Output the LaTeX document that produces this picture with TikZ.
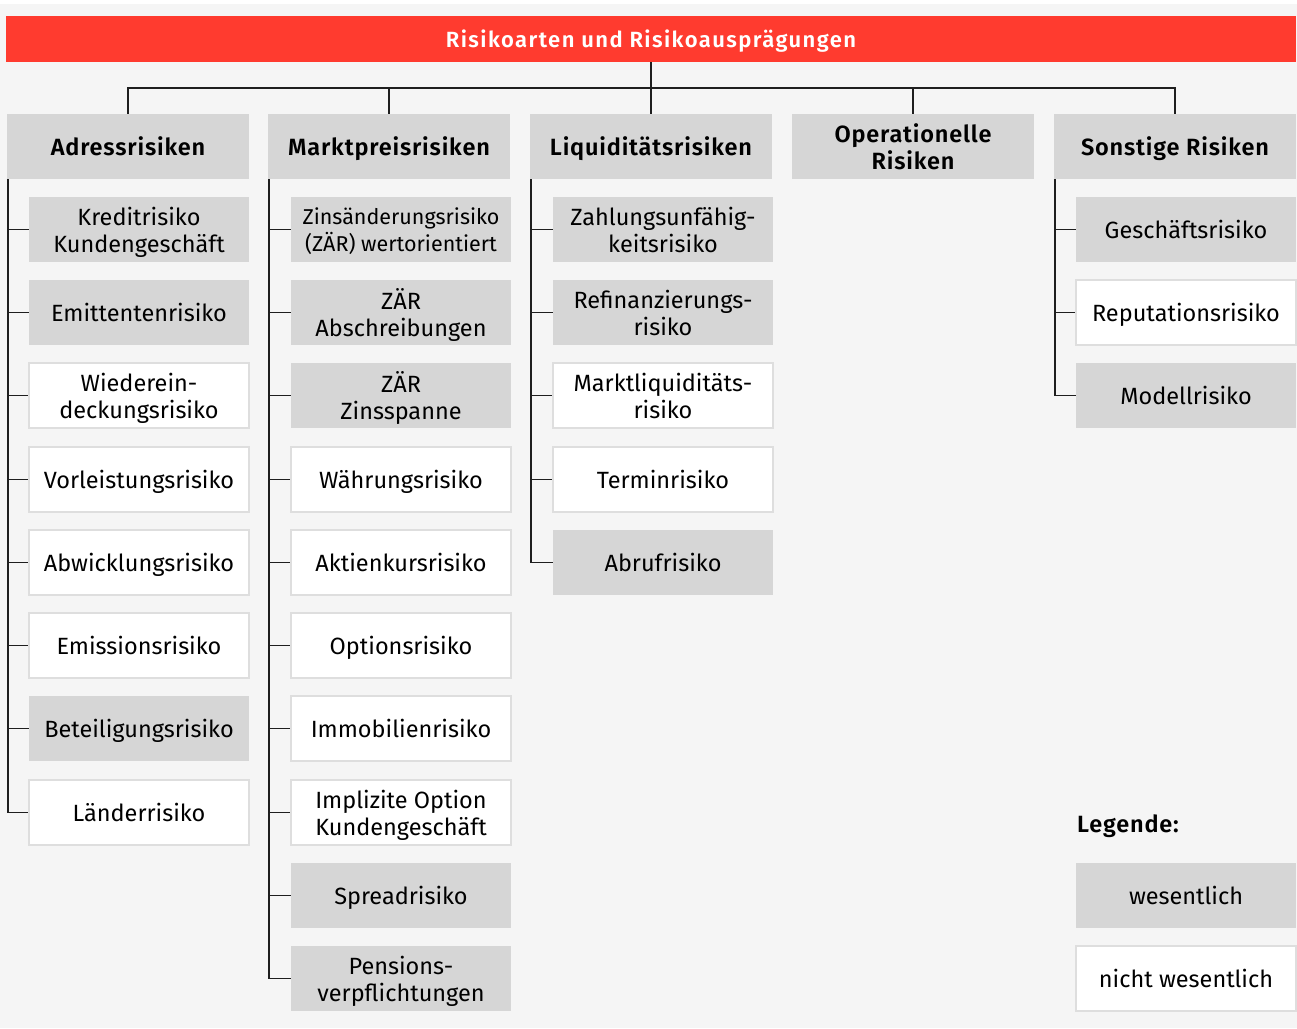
\documentclass[tikz,border=0pt]{standalone}
\usepackage{fontspec}
\setmainfont{Fira Sans}[BoldFont={Fira Sans SemiBold}]
\usetikzlibrary{positioning}

\definecolor{bgcol}{HTML}{F5F5F5}
\definecolor{rotcol}{HTML}{FF3B2F}
\definecolor{graucol}{HTML}{D6D6D6}
\definecolor{randcol}{HTML}{DEDEDE}
\definecolor{liniecol}{HTML}{1E1E1E}

\tikzset{
	kopf/.style={fill=graucol, minimum width=242pt, minimum height=65pt, inner sep=0pt, align=center, text depth=0pt, font=\fontsize{23.5}{27}\selectfont\bfseries\addfontfeatures{LetterSpace=3.5}},
	wes/.style={fill=graucol, minimum width=220pt, minimum height=65pt, inner sep=0pt, align=center, text depth=0pt, font=\fontsize{23.5}{27}\selectfont},
	unwes/.style={wes, fill=white, draw=randcol, line width=1.5pt},
	ast/.style={draw=liniecol, line width=1.4pt},
}

\begin{document}
\begin{tikzpicture}[x=1pt, y=-1pt]
		\useasboundingbox (0,0) rectangle (1297,1028);
		\fill[bgcol] (0,4) rectangle (1297,1028);

		% Titel
		\node[fill=rotcol, minimum width=1290pt, minimum height=46pt, inner sep=0pt, text depth=0pt, text=white, font=\fontsize{22}{25}\selectfont\bfseries\addfontfeatures{LetterSpace=6.5}] (titel) at (651,39) {Risikoarten und Risikoausprägungen};

		% Risikoarten
		\node[kopf] (adr) at (128,146.5) {Adressrisiken};
		\node[kopf] (mkt) at (389,146.5) {Marktpreisrisiken};
		\node[kopf] (liq) at (651,146.5) {Liquiditätsrisiken};
		\node[kopf] (ops) at (913,146.5) {Operationelle\\Risiken};
		\node[kopf] (son) at (1175,146.5) {Sonstige Risiken};

		\coordinate (bus) at (651,88);
		\draw[ast] (titel.south) -- (liq.north);
		\draw[ast] (adr.north) |- (bus) -| (son.north);
		\draw[ast] (mkt.north) |- (bus);
		\draw[ast] (ops.north) |- (bus);

		% Adressrisiken
		\node[wes] (adr1) at (139,229.5) {Kreditrisiko\\Kundengeschäft};
		\node[wes] (adr2) at (139,312.5) {Emittentenrisiko};
		\node[unwes] (adr3) at (139,395.5) {Wiederein-\\deckungsrisiko};
		\node[unwes] (adr4) at (139,479.5) {Vorleistungsrisiko};
		\node[unwes] (adr5) at (139,562.5) {Abwicklungsrisiko};
		\node[unwes] (adr6) at (139,645.5) {Emissionsrisiko};
		\node[wes] (adr7) at (139,728.5) {Beteiligungsrisiko};
		\node[unwes] (adr8) at (139,812.5) {Länderrisiko};

		% Marktpreisrisiken
		\node[wes, font=\fontsize{21.5}{27}\selectfont] (mkt1) at (401,229.5) {Zinsänderungsrisiko\\(ZÄR) wertorientiert};
		\node[wes] (mkt2) at (401,312.5) {ZÄR\\Abschreibungen};
		\node[wes] (mkt3) at (401,395.5) {ZÄR\\Zinsspanne};
		\node[unwes] (mkt4) at (401,479.5) {Währungsrisiko};
		\node[unwes] (mkt5) at (401,562.5) {Aktienkursrisiko};
		\node[unwes] (mkt6) at (401,645.5) {Optionsrisiko};
		\node[unwes] (mkt7) at (401,728.5) {Immobilienrisiko};
		\node[unwes] (mkt8) at (401,812.5) {Implizite Option\\Kundengeschäft};
		\node[wes] (mkt9) at (401,895.5) {Spreadrisiko};
		\node[wes] (mkt10) at (401,978.5) {Pensions-\\verpflichtungen};

		% Liquiditaetsrisiken
		\node[wes] (liq1) at (663,229.5) {Zahlungsunfähig-\\keitsrisiko};
		\node[wes] (liq2) at (663,312.5) {Refinanzierungs-\\risiko};
		\node[unwes] (liq3) at (663,395.5) {Marktliquiditäts-\\risiko};
		\node[unwes] (liq4) at (663,479.5) {Terminrisiko};
		\node[wes] (liq5) at (663,562.5) {Abrufrisiko};

		% Sonstige Risiken
		\node[wes] (son1) at (1186,229.5) {Geschäftsrisiko};
		\node[unwes] (son2) at (1186,312.5) {Reputationsrisiko};
		\node[wes] (son3) at (1186,395.5) {Modellrisiko};

		% Aeste
		\foreach \i in {1,...,8}
			\draw[ast] ([xshift=1pt]adr.south west) |- (adr\i.west);
		\foreach \i in {1,...,10}
			\draw[ast] ([xshift=1pt]mkt.south west) |- (mkt\i.west);
		\foreach \i in {1,...,5}
			\draw[ast] ([xshift=1pt]liq.south west) |- (liq\i.west);
		\foreach \i in {1,...,3}
			\draw[ast] ([xshift=1pt]son.south west) |- (son\i.west);

		% Legende
		\node[anchor=west, inner sep=0pt, font=\fontsize{23.5}{27}\selectfont\bfseries\addfontfeatures{LetterSpace=3.5}] (leg) at (1077,826) {Legende:};
		\node[wes] (leg1) at (1186,895.5) {wesentlich};
		\node[unwes] (leg2) at (1186,978.5) {nicht wesentlich};
	\end{tikzpicture}
\end{document}
